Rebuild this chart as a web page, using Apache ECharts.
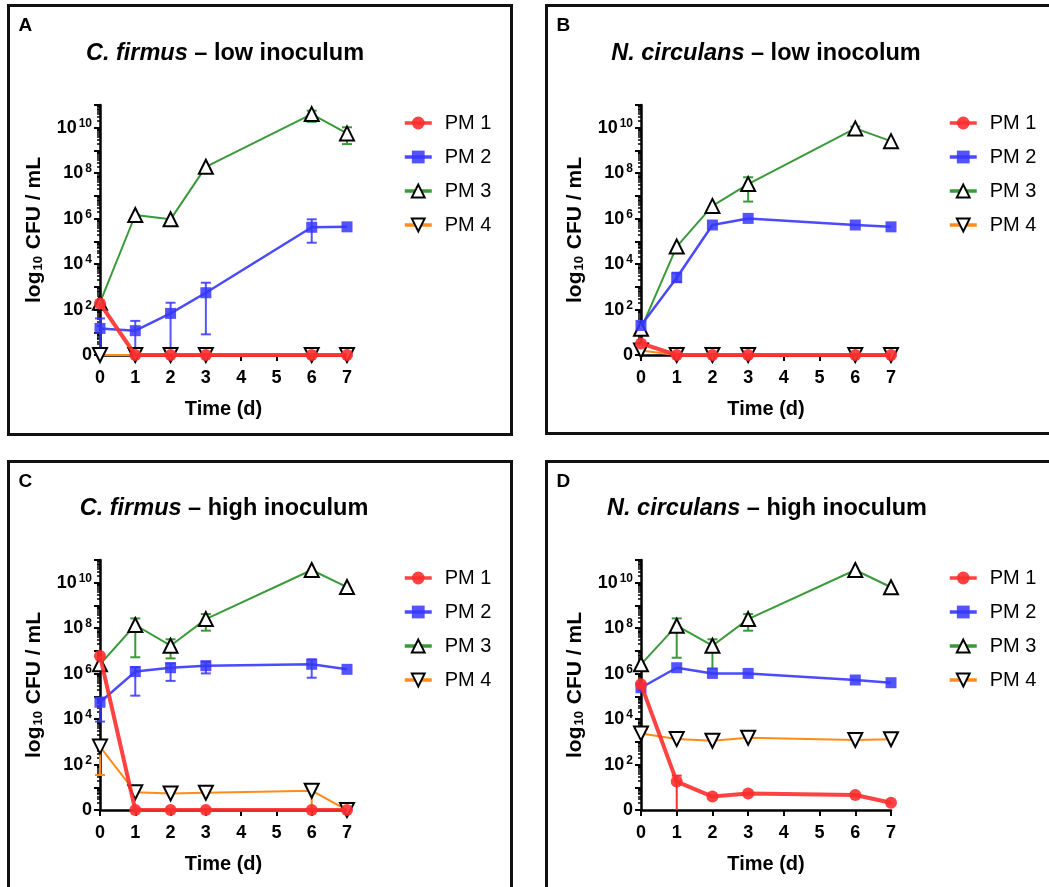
<!DOCTYPE html>
<html>
<head>
<meta charset="utf-8">
<script src="https://cdn.jsdelivr.net/npm/echarts@6/dist/echarts.min.js"></script>
<style>
  html, body { margin: 0; padding: 0; background: #fff; }
  #chart { width: 1049px; height: 887px; }
</style>
</head>
<body>
<div id="chart"></div>
<script>
// time points (d)
const days = [0, 1, 2, 3, 6, 7];
const seriesNames = ['PM 1', 'PM 2', 'PM 3', 'PM 4'];
const xTickLabels = [0, 1, 2, 3, 4, 5, 6, 7];
const yLabelValues = [0, 2, 4, 6, 8, 10];

// log10 CFU / mL (0 = none detected)
const pm1A = [2.27, 0, 0, 0, 0, 0];
const pm2A = [1.17, 1.07, 1.83, 2.74, 5.62, 5.64];
const pm3A = [2.3, 6.16, 5.97, 8.28, 10.6, 9.75];
const pm4A = [0, 0, 0, 0, 0, 0];

const pm1B = [0.51, 0, 0, 0, 0, 0];
const pm2B = [1.3, 3.4, 5.72, 6.01, 5.72, 5.64];
const pm3B = [1.15, 4.77, 6.56, 7.52, 9.97, 9.41];
const pm4B = [0.2, 0, 0, 0, 0, 0];

const pm1C = [6.78, 0, 0, 0, 0, 0];
const pm2C = [4.74, 6.09, 6.26, 6.35, 6.41, 6.19];
const pm3C = [6.41, 8.14, 7.23, 8.4, 10.56, 9.81];
const pm4C = [2.79, 0.78, 0.73, 0.76, 0.85, 0];

const pm1D = [5.53, 1.25, 0.59, 0.73, 0.66, 0.32];
const pm2D = [5.38, 6.26, 6.01, 6.01, 5.72, 5.6];
const pm3D = [6.41, 8.11, 7.23, 8.4, 10.56, 9.8];
const pm4D = [3.37, 3.12, 3.05, 3.18, 3.08, 3.11];

// error bars: [day, low, high]
const errA = [[], [[0, 0, 1.61], [1, 0, 1.5], [2, 0, 2.3], [3, 0.91, 3.18], [6, 4.94, 5.97]], [[6, 10.26, 10.75], [7, 9.28, 10.02]], []];
const errB = [[], [[1, 3.22, 3.62]], [[3, 6.75, 7.82], [6, 9.78, 10.05]], []];
const errC = [[], [[0, 3.89, 4.94], [1, 5.03, 6.29], [2, 5.68, 6.45], [3, 6.01, 6.52], [6, 5.82, 6.63]], [[1, 6.72, 8.43], [2, 6.67, 7.51], [3, 7.89, 8.62]], [[0, 1.54, 3.01], [6, 0, 0.95]]];
const errD = [[[1, 0, 1.51]], [], [[1, 6.7, 8.43], [2, 6.23, 7.51], [3, 7.89, 8.62]], []];

const panels = [
  { letter: 'A', species: 'C. firmus', rest: ' – low inoculum', data: [pm1A, pm2A, pm3A, pm4A], err: errA,
    grid: { left: 100, top: 105, width: 247, height: 250 }, titleX: 225, legend: [403, 113], box: [8.5, 5.5, 503, 429] },
  { letter: 'B', species: 'N. circulans', rest: ' – low inocolum', data: [pm1B, pm2B, pm3B, pm4B], err: errB,
    grid: { left: 641, top: 105, width: 250, height: 250 }, titleX: 766, legend: [948, 113], box: [546.5, 5.5, 520, 428] },
  { letter: 'C', species: 'C. firmus', rest: ' – high inoculum', data: [pm1C, pm2C, pm3C, pm4C], err: errC,
    grid: { left: 100, top: 560, width: 247, height: 250 }, titleX: 224, legend: [403, 568], box: [8.5, 461.5, 503, 450] },
  { letter: 'D', species: 'N. circulans', rest: ' – high inoculum', data: [pm1D, pm2D, pm3D, pm4D], err: errD,
    grid: { left: 641, top: 560, width: 250, height: 250 }, titleX: 767, legend: [948, 568], box: [546.5, 461.5, 520, 450] }
];

const font = '"Liberation Sans", Arial, Helvetica, sans-serif';
const colors = ['#ff2e2e', '#3636ff', '#3a9a3a', '#ff8c1a'];
const styles = [
  { symbol: 'circle', symbolSize: 12, symbolRotate: 0, lineWidth: 4, z: 6, item: { color: '#ff2e2e', opacity: 0.9 } },
  { symbol: 'rect', symbolSize: 11, symbolRotate: 0, lineWidth: 2.5, z: 5, item: { color: '#3636ff', opacity: 0.85 } },
  { symbol: 'triangle', symbolSize: 14, symbolRotate: 0, lineWidth: 2, z: 4, item: { color: '#fff', borderColor: '#000', borderWidth: 2 } },
  { symbol: 'triangle', symbolSize: 14, symbolRotate: 180, lineWidth: 2, z: 3, item: { color: '#fff', borderColor: '#000', borderWidth: 2 } }
];

const majorTicks = [];
const minorTicks = [];
for (let n = 0; n <= 11; n++) majorTicks.push(n);
for (let n = 0; n < 11; n++) {
  for (let k = 2; k <= 9; k++) minorTicks.push(n + Math.log10(k));
}

const grids = [], xAxes = [], yAxes = [], series = [], titles = [], legends = [], graphics = [];

panels.forEach((p, g) => {
  grids.push(p.grid);
  titles.push({
    text: '{i|' + p.species + '}{n|' + p.rest + '}',
    left: p.titleX, top: p.grid.top - 63, textAlign: 'center', padding: 0,
    textStyle: {
      rich: {
        i: { fontFamily: font, fontSize: 23.5, fontWeight: 'bold', fontStyle: 'italic', color: '#000' },
        n: { fontFamily: font, fontSize: 23.5, fontWeight: 'bold', color: '#000' }
      }
    }
  });
  graphics.push({
    type: 'rect', shape: { x: p.box[0], y: p.box[1], width: p.box[2], height: p.box[3] },
    style: { fill: 'none', stroke: '#111', lineWidth: 3 }
  });
  graphics.push({
    type: 'text', x: p.box[0] + 10, y: p.box[1] + 11,
    style: { text: p.letter, font: 'bold 19px ' + font, fill: '#000' }
  });
  legends.push({
    data: seriesNames, orient: 'vertical', left: p.legend[0], top: p.legend[1], padding: 0,
    itemWidth: 27, itemHeight: 16, itemGap: 14, selectedMode: false,
    lineStyle: { width: 3.5 },
    textStyle: { fontFamily: font, fontSize: 20, color: '#000', lineHeight: 20, padding: [0, 0, 0, 8] }
  });
  xAxes.push({
    type: 'value', gridIndex: g, min: 0, max: 7, interval: 1,
    name: 'Time (d)', nameLocation: 'middle', nameGap: 44,
    nameTextStyle: { fontFamily: font, fontSize: 20, fontWeight: 'bold', color: '#000' },
    axisLine: { show: true, onZero: false, lineStyle: { color: '#000', width: 2.5 } },
    axisTick: { show: true, length: 6, lineStyle: { color: '#000', width: 2 } },
    axisLabel: { margin: 14, fontFamily: font, fontSize: 18, fontWeight: 'bold', color: '#000',
      formatter: v => xTickLabels.includes(v) ? String(v) : '' },
    splitLine: { show: false }
  });
  yAxes.push({
    type: 'value', gridIndex: g, min: 0, max: 11,
    name: '{a|log}{s|10}{a| CFU / mL}', nameLocation: 'middle', nameRotate: 90, nameGap: 55,
    nameTextStyle: {
      rich: {
        a: { fontFamily: font, fontSize: 21, fontWeight: 'bold', color: '#000' },
        s: { fontFamily: font, fontSize: 13, fontWeight: 'bold', color: '#000', verticalAlign: 'bottom', padding: [7, 1, 0, 1] }
      }
    },
    axisLine: { show: true, onZero: false, lineStyle: { color: '#000', width: 2.5 } },
    axisTick: { show: true, length: 6, customValues: majorTicks, lineStyle: { color: '#000', width: 2 } },
    axisLabel: {
      customValues: yLabelValues, margin: 8,
      formatter: v => v === 0 ? '{b|0}' : '{b|10}{s|' + v + '}',
      rich: {
        b: { fontFamily: font, fontSize: 18, fontWeight: 'bold', color: '#000' },
        s: { fontFamily: font, fontSize: 12, fontWeight: 'bold', color: '#000', verticalAlign: 'top', padding: [0, 0, 8, 2] }
      }
    },
    splitLine: { show: false }
  });
  yAxes.push({
    type: 'value', gridIndex: g, min: 0, max: 11, position: 'left',
    axisLine: { show: false },
    axisTick: { show: true, length: 3, customValues: minorTicks, lineStyle: { color: '#000', width: 1.5 } },
    axisLabel: { show: false },
    splitLine: { show: false }
  });

  // error bars below the markers
  p.err.forEach((bars, s) => {
    if (!bars.length) return;
    series.push({
      type: 'custom', xAxisIndex: g, yAxisIndex: g * 2, data: bars, z: 1, silent: true,
      encode: { x: 0, y: [1, 2] },
      renderItem: (params, api) => {
        const x = api.value(0);
        const lo = api.value(1);
        const top = api.coord([x, api.value(2)]);
        const bot = api.coord([x, lo]);
        const st = { stroke: colors[s], lineWidth: 2, opacity: s === 1 ? 0.85 : 1 };
        const children = [
          { type: 'line', shape: { x1: top[0], y1: top[1], x2: bot[0], y2: bot[1] }, style: st },
          { type: 'line', shape: { x1: top[0] - 5, y1: top[1], x2: top[0] + 5, y2: top[1] }, style: st }
        ];
        if (lo > 0.05) {
          children.push({ type: 'line', shape: { x1: bot[0] - 5, y1: bot[1], x2: bot[0] + 5, y2: bot[1] }, style: st });
        }
        return { type: 'group', children: children };
      }
    });
  });

  [3, 2, 1, 0].forEach(s => {
    const st = styles[s];
    series.push({
      name: seriesNames[s], type: 'line', xAxisIndex: g, yAxisIndex: g * 2,
      data: days.map((d, i) => [d, p.data[s][i]]),
      symbol: st.symbol, symbolSize: st.symbolSize, symbolRotate: st.symbolRotate,
      showAllSymbol: true, clip: false, z: st.z,
      lineStyle: { color: colors[s], width: st.lineWidth, opacity: s < 2 ? 0.9 : 1 },
      itemStyle: st.item,
      emphasis: { disabled: true },
      animation: false
    });
  });
});

const chart = echarts.init(document.getElementById('chart'));
chart.setOption({
  animation: false,
  backgroundColor: '#fff',
  title: titles,
  legend: legends,
  grid: grids,
  xAxis: xAxes,
  yAxis: yAxes,
  series: series,
  graphic: graphics
});
</script>
</body>
</html>
